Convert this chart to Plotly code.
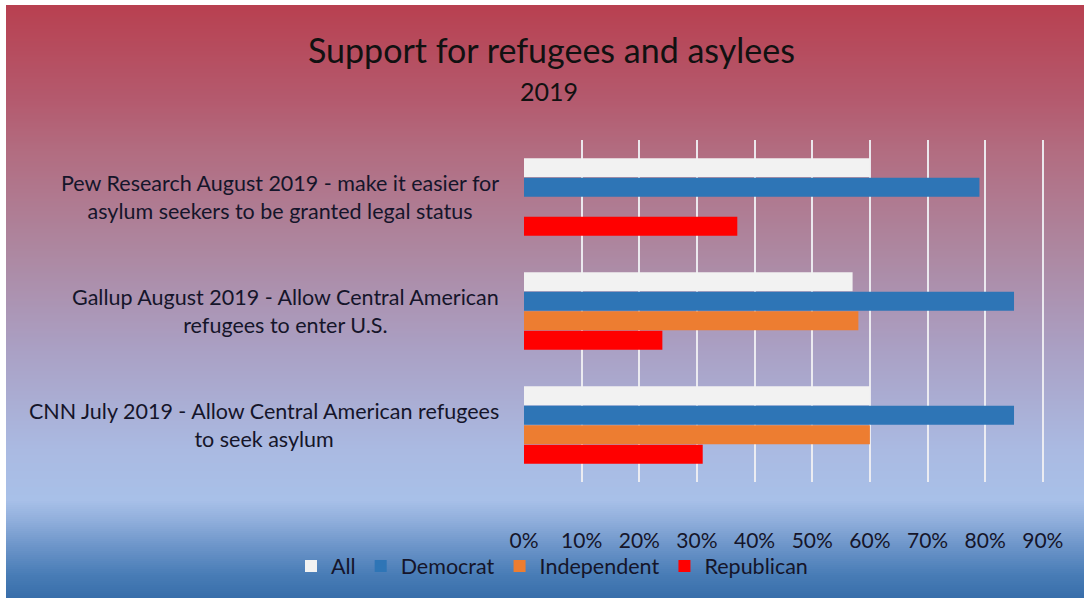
import numpy as np
import plotly.graph_objects as go

W, H = 1084, 598

categories = [
    "Pew Research August 2019 - make it easier for<br>asylum seekers to be granted legal status",
    "Gallup August 2019 - Allow Central American<br>refugees to enter U.S.",
    "CNN July 2019 - Allow Central American refugees<br>to seek asylum",
]
cat_keys = ["Pew", "Gallup", "CNN"]
series_names = ["All", "Democrat", "Independent", "Republican"]
all_vals = [0.60, 0.57, 0.60]
dem_vals = [0.79, 0.85, 0.85]
ind_vals = [None, 0.58, 0.60]
rep_vals = [0.37, 0.24, 0.31]
x_ticks = [0, 0.1, 0.2, 0.3, 0.4, 0.5, 0.6, 0.7, 0.8, 0.9]
x_ticklabels = ["0%", "10%", "20%", "30%", "40%", "50%", "60%", "70%", "80%", "90%"]

colors = ["#F2F2F2", "#2E75B6", "#ED7D31", "#FF0000"]
values = [all_vals, dem_vals, ind_vals, rep_vals]

FONT = "Lato"
TXT = "#15152a"

fig = go.Figure()
for name, vals, col in zip(series_names, values, colors):
    fig.add_trace(go.Bar(
        y=cat_keys, x=vals, name=name, orientation="h",
        marker=dict(color=col, line=dict(width=0)),
    ))

# background gradient (styling only)
stops_y = [5, 100, 150, 250, 350, 450, 500, 520, 545, 575, 598]
stops_c = [(184, 64, 80), (180, 90, 110), (178, 108, 128), (173, 135, 160),
           (170, 160, 196), (170, 186, 226), (168, 192, 232), (145, 175, 220),
           (110, 150, 202), (72, 124, 182), (56, 110, 170)]
shapes = []
step = 2
for y0 in range(5, H, step):
    yc = y0 + step / 2
    c = [int(round(np.interp(yc, stops_y, [s[i] for s in stops_c]))) for i in range(3)]
    shapes.append(dict(
        type="rect", xref="paper", yref="paper", layer="below",
        x0=6 / W, x1=1, y0=1 - (y0 + step) / H, y1=1 - y0 / H,
        fillcolor=f"rgb({c[0]},{c[1]},{c[2]})", line=dict(width=0),
    ))

annotations = [
    dict(text="Support for refugees and asylees", x=551 / W, y=1 - 50 / H,
         xref="paper", yref="paper", showarrow=False,
         font=dict(family=FONT, size=34, color="#111111"), xanchor="center", yanchor="middle"),
    dict(text="2019", x=549 / W, y=1 - 91 / H, xref="paper", yref="paper", showarrow=False,
         font=dict(family=FONT, size=25, color="#111111"), xanchor="center", yanchor="middle"),
]
for key, lab in zip(cat_keys, categories):
    annotations.append(dict(
        text=lab, x=501 / W, y=key, xref="paper", yref="y", showarrow=False,
        xanchor="right", yanchor="middle", align="center",
        font=dict(family=FONT, size=21.5, color=TXT),
    ))

fig.update_layout(
    width=W, height=H,
    margin=dict(l=0, r=0, t=0, b=0),
    paper_bgcolor="white", plot_bgcolor="rgba(0,0,0,0)",
    barmode="group", bargap=0.316, bargroupgap=0.02,
    shapes=shapes, annotations=annotations,
    font=dict(family=FONT, size=21, color=TXT),
    legend=dict(orientation="h", x=552 / W, xanchor="center", y=1 - 566 / H, yanchor="middle",
                bgcolor="rgba(0,0,0,0)", font=dict(family=FONT, size=21.5, color=TXT),
                traceorder="normal"),
    showlegend=True,
)
fig.update_xaxes(
    domain=[524 / W, 1044 / W], range=[0, 0.902], automargin=False,
    tickvals=x_ticks, ticktext=x_ticklabels,
    showgrid=True, gridcolor="rgba(238,238,242,0.95)", gridwidth=2,
    zeroline=False, showline=False,
    ticks="outside", ticklen=40, tickcolor="rgba(0,0,0,0)",
    tickfont=dict(family=FONT, size=21, color=TXT),
)
fig.update_yaxes(
    domain=[1 - 482 / H, 1 - 140 / H], autorange="reversed", automargin=False,
    showticklabels=False, showgrid=False, zeroline=False, showline=False,
)

fig.write_html("out.html")
